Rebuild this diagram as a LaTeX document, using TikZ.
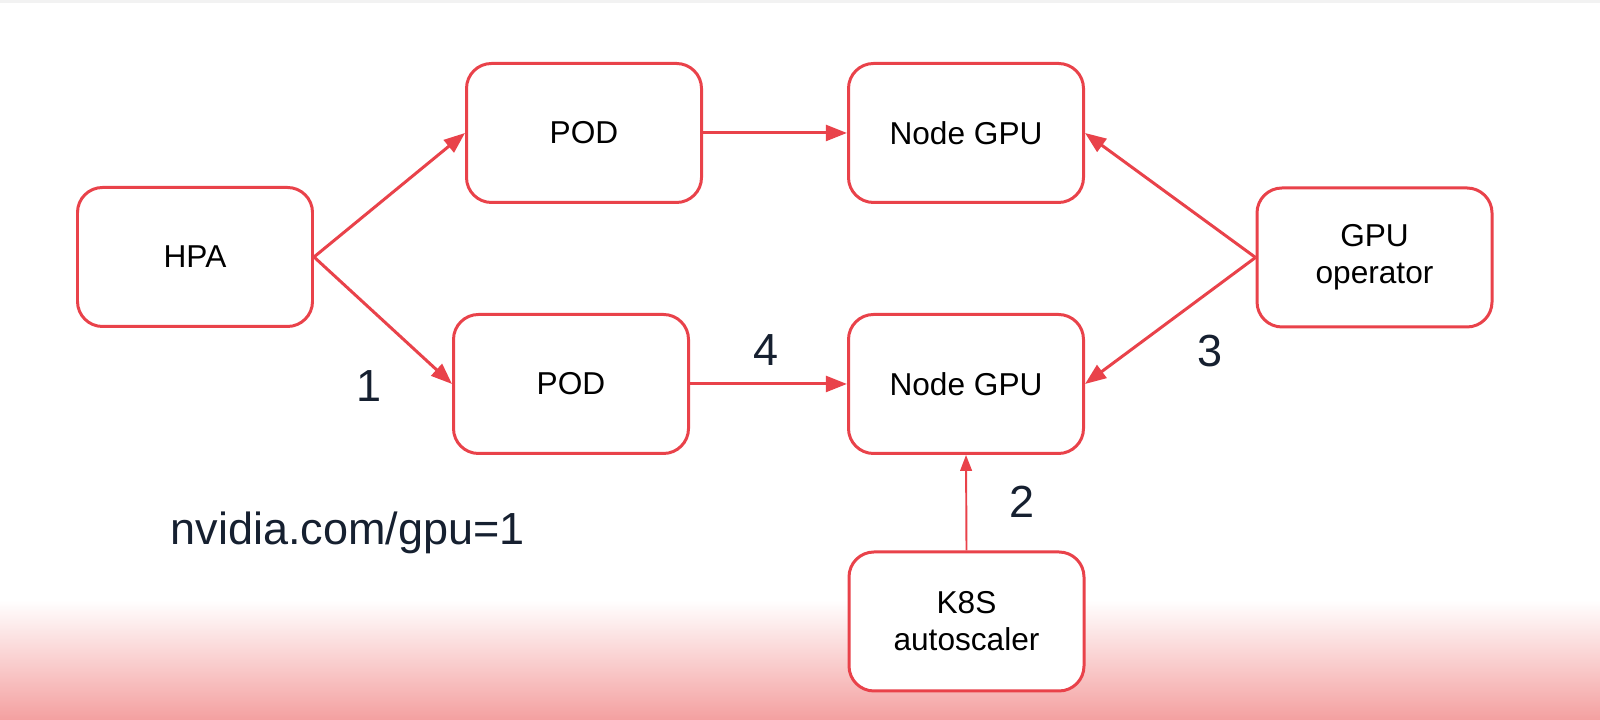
\documentclass[tikz,border=0pt]{standalone}
\usepackage{fontspec}
\setmainfont{Liberation Sans}
\usepackage{tikz}
\usetikzlibrary{arrows.meta}

\definecolor{boxred}{RGB}{233,66,74}
\definecolor{labelnavy}{RGB}{22,32,48}
\definecolor{fadepink}{RGB}{244,160,160}
\definecolor{stripgray}{RGB}{242,242,242}

\begin{document}
\begin{tikzpicture}[
    box/.style={draw=boxred, line width=0.85pt, rounded corners=0.25cm, fill=white,
        minimum width=2.35cm, minimum height=1.39cm, align=center,
        font=\fontsize{9}{10.5}\selectfont},
    link/.style={draw=boxred, line width=0.85pt, -{Triangle[length=6pt,width=4.5pt]}},
    num/.style={text=labelnavy, font=\fontsize{12.8}{15}\selectfont}
]
% background
\useasboundingbox (0,0) rectangle (16,7.2);
\fill[white] (0,0) rectangle (16,7.2);
\fill[stripgray] (0,7.17) rectangle (16,7.2);
\shade[top color=white, bottom color=fadepink] (0,0) rectangle (16,1.2);

% boxes
\node[box] (hpa) at (1.95,4.63) {HPA};
\node[box] (podA) at (5.84,5.87) {POD};
\node[box] (gpuA) at (9.66,5.87) {Node GPU};
\node[box] (oper) at (13.745,4.625) {GPU\\operator};
\node[box] (podB) at (5.71,3.36) {POD};
\node[box] (gpuB) at (9.66,3.36) {Node GPU};
\node[box] (scaler) at (9.665,0.985) {K8S\\autoscaler};

% connectors
\draw[link] (hpa.east) -- (podA.west);
\draw[link] (hpa.east) -- (podB.west);
\draw[link] (podA.east) -- (gpuA.west);
\draw[link] (podB.east) -- (gpuB.west);
\draw[link] (oper.west) -- (gpuA.east);
\draw[link] (oper.west) -- (gpuB.east);
\draw[link, line width=0.55pt, -{Triangle[length=4.5pt,width=3.3pt]}] (scaler.north) -- (gpuB.south);

% step numbers
\node[num] (n1) at (3.69,3.34) {1};
\node[num] (n2) at (10.22,2.18) {2};
\node[num] (n3) at (12.10,3.69) {3};
\node[num] (n4) at (7.66,3.70) {4};
\node[num] (quota) at (3.475,1.875) {nvidia.com/gpu=1};
\end{tikzpicture}
\end{document}
